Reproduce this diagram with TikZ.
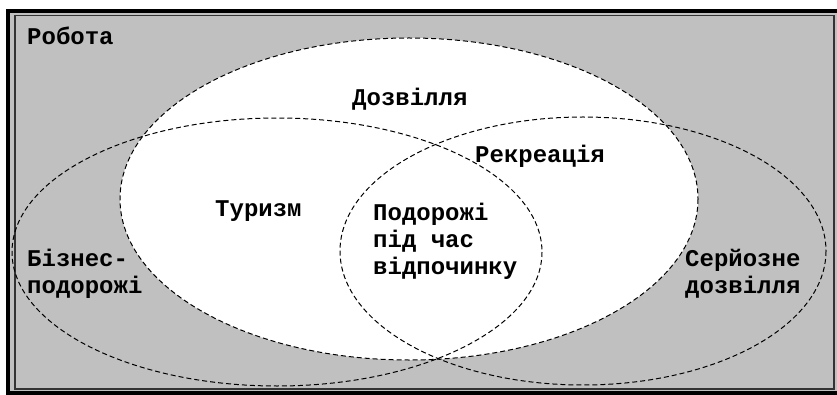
\documentclass[tikz,border=0pt]{standalone}
\usepackage{fontspec}
\setmonofont{Liberation Mono}
\usepackage{tikz}
\definecolor{silver}{HTML}{C0C0C0}
\tikzstyle{area}=[draw,dash pattern=on 5pt off 3pt,line width=1pt]
\tikzstyle{label}=[inner sep=0pt,anchor=base west,align=left,font=\fontsize{24}{27}\selectfont\ttfamily\bfseries]

\begin{document}
\begin{tikzpicture}[x=1pt,y=-1pt]
		\useasboundingbox (0,0) rectangle (837,395);
		% frame
		\fill[silver] (8,11) rectangle (841,393);
		\draw[line width=4pt] (8,11) rectangle (841,393);
		\draw[line width=1.2pt,black!80] (15,15.5) rectangle (834,389);

		% sets
		\filldraw[area,fill=white] (409,199) ellipse [x radius=289,y radius=161];
		\draw[area] (277,252) ellipse [x radius=265,y radius=134];
		\draw[area] (583,251) ellipse [x radius=243,y radius=134];

		% labels (base = last line)
		\node[label] (work) at (27,45) {Робота};
		\node[label] (leisure) at (352,106) {Дозвілля};
		\node[label] (recr) at (475,163) {Рекреація};
		\node[label] (tour) at (215,217) {Туризм};
		\node[label] (trips) at (373,274) {Подорожі\\під час\\відпочинку};
		\node[label] (busi) at (27,293) {Бізнес-\\подорожі};
		\node[label] (serious) at (685,293) {Серйозне\\дозвілля};
	\end{tikzpicture}
\end{document}
